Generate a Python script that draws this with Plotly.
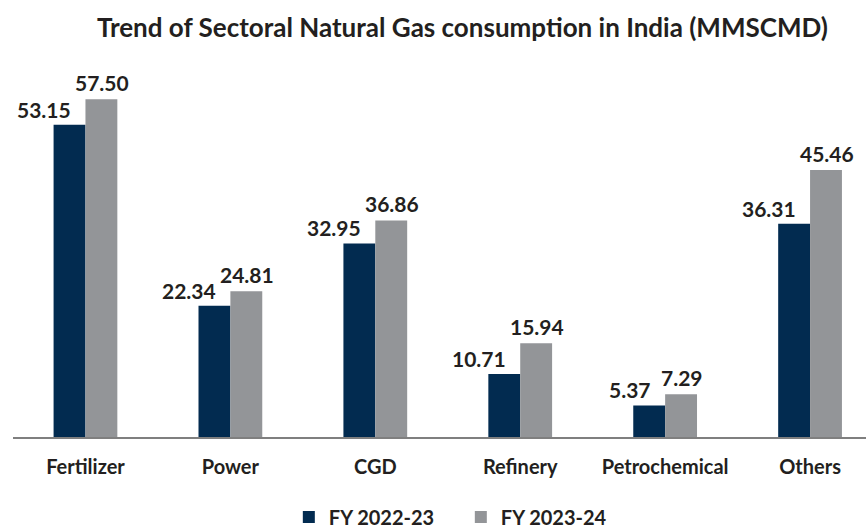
import plotly.graph_objects as go

categories = ["Fertilizer", "Power", "CGD", "Refinery", "Petrochemical", "Others"]
fy_2022_23 = [53.15, 22.34, 32.95, 10.71, 5.37, 36.31]
fy_2023_24 = [57.50, 24.81, 36.86, 15.94, 7.29, 45.46]
series_names = ["FY 2022-23", "FY 2023-24"]

NAVY = "#022B50"
GRAY = "#939598"
TXT = "#231F20"
FONT = "Lato, 'Open Sans', sans-serif"

fig = go.Figure()
fig.add_trace(go.Bar(x=categories, y=fy_2022_23, name=series_names[0],
                     marker=dict(color=NAVY, line=dict(width=0))))
fig.add_trace(go.Bar(x=categories, y=fy_2023_24, name=series_names[1],
                     marker=dict(color=GRAY, line=dict(width=0))))

annotations = []
for c, v in zip(categories, fy_2022_23):
    annotations.append(dict(x=c, y=v, text=f"{v:.2f}", showarrow=False,
                            xanchor="right", yanchor="bottom", xshift=-12, yshift=1,
                            font=dict(family=FONT, size=21, color=TXT, weight="bold")))
for c, v in zip(categories, fy_2023_24):
    annotations.append(dict(x=c, y=v, text=f"{v:.2f}", showarrow=False,
                            xanchor="center", yanchor="bottom", xshift=17, yshift=2,
                            font=dict(family=FONT, size=21, color=TXT, weight="bold")))

fig.update_layout(
    width=866, height=529,
    margin=dict(l=13, r=0, t=61, b=92),
    paper_bgcolor="white", plot_bgcolor="white",
    barmode="group", bargap=0.56, bargroupgap=0,
    font=dict(family=FONT, color=TXT),
    title=dict(text="<b>Trend of Sectoral Natural Gas consumption in India (MMSCMD)</b>",
               x=0.534, xanchor="center", y=1 - 28 / 529, yanchor="middle", yref="container",
               font=dict(family=FONT, size=26, color=TXT)),
    xaxis=dict(range=[-0.5, 5.386], showline=True, linecolor="#7F7F7F", linewidth=2,
               showgrid=False, zeroline=False, ticks="", ticklabelstandoff=11,
               tickfont=dict(family=FONT, size=20, color=TXT, weight="bold")),
    yaxis=dict(range=[0, 64], visible=False, showgrid=False, zeroline=False),
    legend=dict(orientation="h", x=0.525, xanchor="center", y=(529 - 517) / 529,
                yanchor="middle", yref="container",
                font=dict(family=FONT, size=20, color=TXT, weight="bold"),
                itemwidth=30, tracegroupgap=0, entrywidth=127, entrywidthmode="pixels"),
    annotations=annotations,
    showlegend=True,
)

fig.write_html("out.html", config={"displayModeBar": False},
               post_script="document.body.style.margin='0';document.body.style.overflow='hidden';")
